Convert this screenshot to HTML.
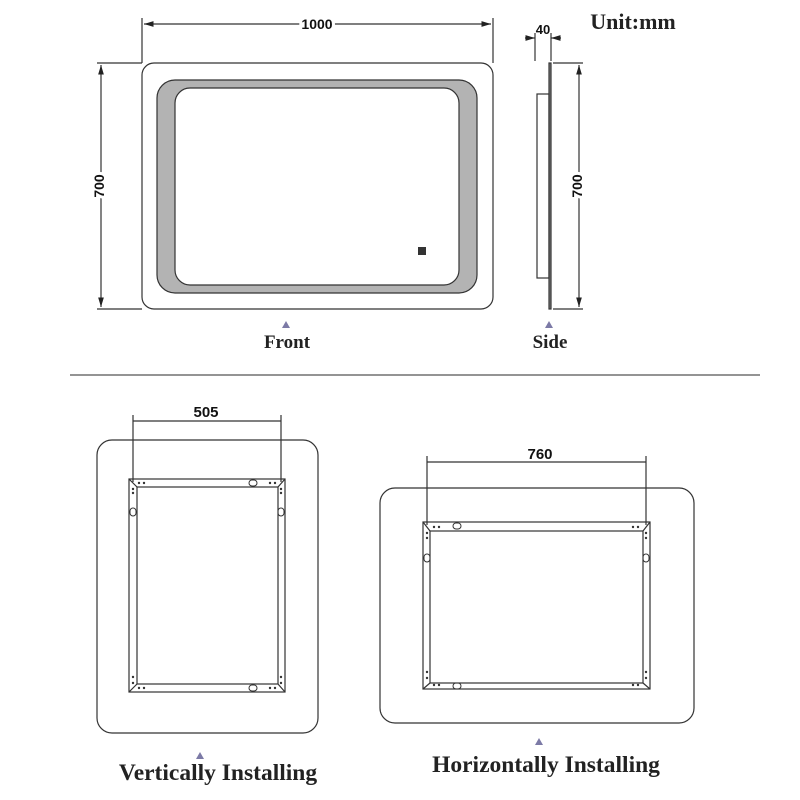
<!DOCTYPE html>
<html><head><style>html,body{margin:0;padding:0;background:#fff}svg{display:block}</style></head><body>
<svg width="800" height="800" viewBox="0 0 800 800" xmlns="http://www.w3.org/2000/svg" font-family="Liberation Sans, sans-serif">
<defs>
<marker id="a" viewBox="0 0 10 10" refX="10" refY="5" markerWidth="8" markerHeight="8" orient="auto-start-reverse"><path d="M0,2 L10,5 L0,8 z" fill="#222"/></marker>
</defs>
<rect width="800" height="800" fill="#fff"/>
<g stroke="#333" fill="none" stroke-width="1.2">
<rect x="142" y="63" width="351" height="246" rx="12"/>
<rect x="157" y="80" width="320" height="213" rx="18" fill="#b3b3b3"/>
<rect x="175" y="88" width="284" height="197" rx="15" fill="#fff"/>
<line x1="142" y1="18" x2="142" y2="63"/><line x1="493" y1="18" x2="493" y2="63"/>
<line x1="144" y1="24" x2="491" y2="24" marker-start="url(#a)" marker-end="url(#a)"/>
<line x1="97" y1="63" x2="142" y2="63"/><line x1="97" y1="309" x2="142" y2="309"/>
<line x1="101" y1="65" x2="101" y2="307" marker-start="url(#a)" marker-end="url(#a)"/>
<rect x="549" y="63" width="2" height="246" fill="#888"/>
<rect x="537" y="94" width="12" height="184"/>
<line x1="553" y1="63" x2="583" y2="63"/><line x1="553" y1="309" x2="583" y2="309"/>
<line x1="579" y1="65" x2="579" y2="307" marker-start="url(#a)" marker-end="url(#a)"/>
<line x1="535" y1="33" x2="535" y2="61"/><line x1="551" y1="33" x2="551" y2="61"/>
<line x1="525" y1="38" x2="535" y2="38" marker-end="url(#a)"/>
<line x1="561" y1="38" x2="551" y2="38" marker-end="url(#a)"/>
<line x1="70" y1="375" x2="760" y2="375" stroke="#555"/>
<rect x="97" y="440" width="221" height="293" rx="15"/>
<rect x="129" y="479" width="156" height="213"/>
<rect x="137" y="487" width="141" height="197"/>
<line x1="129" y1="479" x2="137" y2="487"/><line x1="285" y1="479" x2="278" y2="487"/>
<line x1="129" y1="692" x2="137" y2="684"/><line x1="285" y1="692" x2="278" y2="684"/>
<line x1="133" y1="415" x2="133" y2="482"/><line x1="281" y1="415" x2="281" y2="482"/>
<line x1="133" y1="421" x2="281" y2="421"/>
<rect x="380" y="488" width="314" height="235" rx="15"/>
<rect x="423" y="522" width="227" height="167"/>
<rect x="430" y="531" width="213" height="152"/>
<line x1="423" y1="522" x2="430" y2="531"/><line x1="650" y1="522" x2="643" y2="531"/>
<line x1="423" y1="689" x2="430" y2="683"/><line x1="650" y1="689" x2="643" y2="683"/>
<line x1="427" y1="456" x2="427" y2="525"/><line x1="646" y1="456" x2="646" y2="525"/>
<line x1="427" y1="462" x2="646" y2="462"/>
</g>
<g fill="#333">
<rect x="418" y="247" width="8" height="8"/>
<circle cx="139" cy="483" r="1.2"/><circle cx="144" cy="483" r="1.2"/><circle cx="270" cy="483" r="1.2"/><circle cx="275" cy="483" r="1.2"/>
<circle cx="139" cy="688" r="1.2"/><circle cx="144" cy="688" r="1.2"/><circle cx="270" cy="688" r="1.2"/><circle cx="275" cy="688" r="1.2"/>
<circle cx="133" cy="489" r="1.2"/><circle cx="133" cy="493" r="1.2"/><circle cx="281" cy="489" r="1.2"/><circle cx="281" cy="493" r="1.2"/>
<circle cx="133" cy="677" r="1.2"/><circle cx="133" cy="683" r="1.2"/><circle cx="281" cy="677" r="1.2"/><circle cx="281" cy="683" r="1.2"/>
<circle cx="434" cy="527" r="1.2"/><circle cx="439" cy="527" r="1.2"/><circle cx="633" cy="527" r="1.2"/><circle cx="638" cy="527" r="1.2"/>
<circle cx="434" cy="685" r="1.2"/><circle cx="439" cy="685" r="1.2"/><circle cx="633" cy="685" r="1.2"/><circle cx="638" cy="685" r="1.2"/>
<circle cx="427" cy="533" r="1.2"/><circle cx="427" cy="538" r="1.2"/><circle cx="646" cy="533" r="1.2"/><circle cx="646" cy="538" r="1.2"/>
<circle cx="427" cy="672" r="1.2"/><circle cx="427" cy="678" r="1.2"/><circle cx="646" cy="672" r="1.2"/><circle cx="646" cy="678" r="1.2"/>
</g>
<g fill="none" stroke="#333" stroke-width="1">
<rect x="249" y="480" width="8" height="6" rx="3"/><rect x="249" y="685" width="8" height="6" rx="3"/>
<rect x="130" y="508" width="6" height="8" rx="3"/><rect x="278" y="508" width="6" height="8" rx="3"/>
<rect x="453" y="523" width="8" height="6" rx="3"/><rect x="453" y="683" width="8" height="6" rx="3"/>
<rect x="424" y="554" width="6" height="8" rx="3"/><rect x="643" y="554" width="6" height="8" rx="3"/>
</g>
<g fill="#111" font-weight="bold" font-size="14">
<text x="317" y="29" text-anchor="middle" stroke="#fff" stroke-width="6" paint-order="stroke">1000</text>
<text transform="translate(104,186) rotate(-90)" text-anchor="middle" stroke="#fff" stroke-width="6" paint-order="stroke">700</text>
<text transform="translate(582,186) rotate(-90)" text-anchor="middle" stroke="#fff" stroke-width="6" paint-order="stroke">700</text>
<text x="543" y="34" text-anchor="middle" font-size="13">40</text>
<text x="206" y="417" text-anchor="middle" font-size="15">505</text>
<text x="540" y="459" text-anchor="middle" font-size="15">760</text>
</g>
<g fill="#222" font-family="Liberation Serif, serif" font-weight="bold">
<text x="633" y="29" text-anchor="middle" font-size="22">Unit:mm</text>
<text x="287" y="348" text-anchor="middle" font-size="19">Front</text>
<text x="550" y="348" text-anchor="middle" font-size="19">Side</text>
<text x="218" y="780" text-anchor="middle" font-size="23.5">Vertically Installing</text>
<text x="546" y="772" text-anchor="middle" font-size="23.5">Horizontally Installing</text>
</g>
<g fill="#7c7aa6">
<polygon points="286,321 282,328 290,328"/>
<polygon points="549,321 545,328 553,328"/>
<polygon points="200,752 196,759 204,759"/>
<polygon points="539,738 535,745 543,745"/>
</g>
</svg>
</body></html>
